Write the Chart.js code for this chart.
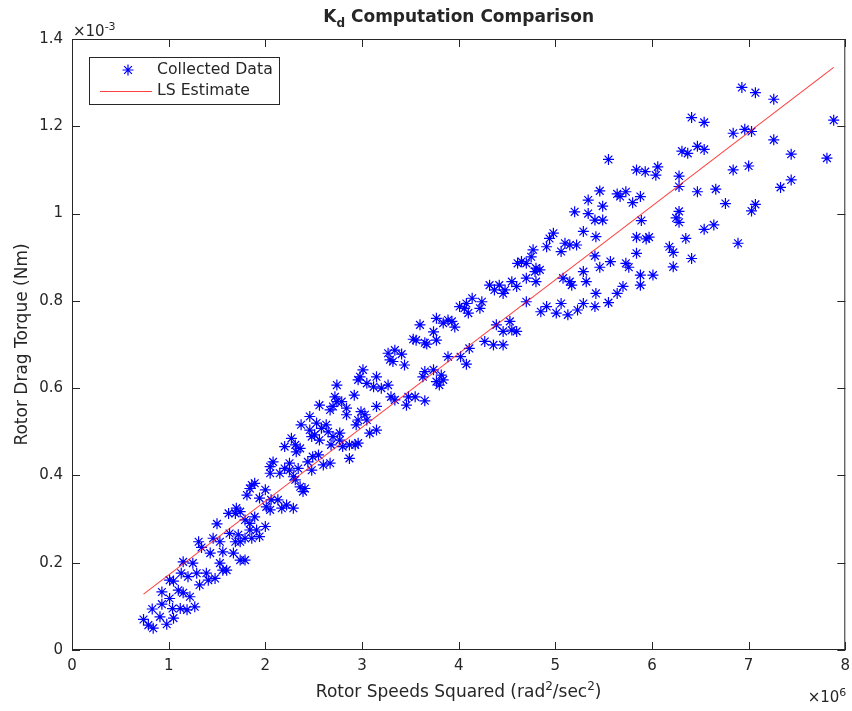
<!DOCTYPE html>
<html>
<head>
<meta charset="utf-8">
<script src="https://cdn.jsdelivr.net/npm/chart.js@4.4.0/dist/chart.umd.min.js"></script>
<style>
html,body{margin:0;padding:0;background:#fff}
</style>
</head>
<body>
<canvas id="kd" width="852" height="711"></canvas>
<script>
// rotor speed squared, in units of 1e6 rad^2/s^2
const speedSq=[
  0.74,0.79,0.84,0.83,0.91,0.93,0.98,1.05,0.93,1.01,1.04,1.12,1.15,1.10,1.22,1.27,1.19,1.01,1.05,1.13,
  1.15,1.20,1.25,1.29,1.32,1.31,1.34,1.39,1.41,1.48,1.46,1.50,1.43,1.53,1.56,1.53,1.56,1.60,1.63,1.69,
  1.72,1.67,1.74,1.79,1.79,1.62,1.69,1.84,1.89,1.91,1.86,1.74,
  1.70,1.74,2.00,1.84,1.79,1.94,1.81,1.86,1.89,1.84,1.94,2.00,2.01,2.06,2.05,2.13,2.17,2.22,2.29,2.05,
  2.08,2.05,2.15,2.20,2.25,2.25,2.34,2.29,2.20,2.27,2.31,2.32,2.36,2.31,2.36,2.41,2.39,2.44,2.48,2.49,
  2.37,2.46,2.51,
  3.01,2.98,3.05,2.96,3.12,3.15,2.74,2.92,2.56,2.72,2.74,2.79,2.67,2.70,2.84,2.84,2.99,3.03,2.96,3.05,
  2.94,3.15,2.46,2.53,2.58,2.63,2.65,2.48,2.56,2.70,2.77,2.77,2.68,2.80,2.87,2.93,2.96,3.08,3.15,2.55,
  2.60,2.67,2.87,
  3.77,3.84,3.89,3.60,3.74,3.77,3.53,3.56,3.65,3.67,3.27,3.34,3.41,3.29,3.32,3.44,3.89,3.20,3.27,3.65,
  3.63,3.74,3.82,3.77,3.80,3.84,3.30,3.34,3.48,3.55,3.65,3.46,
  4.61,4.32,4.37,4.42,4.48,4.55,4.46,4.60,4.14,4.24,4.08,4.06,4.01,4.10,4.22,3.93,3.96,4.39,4.53,4.46,
  4.55,4.60,4.27,4.36,4.46,4.11,4.02,4.08,
  5.34,5.20,5.34,5.29,4.98,4.94,4.91,5.10,5.15,5.22,5.06,4.77,4.75,4.65,4.70,4.80,4.84,4.79,4.70,4.80,
  4.70,5.29,5.08,5.15,5.17,5.32,4.91,4.85,5.06,5.01,5.13,5.23,5.29,
  5.55,5.84,5.93,6.04,6.06,5.46,5.64,5.67,5.73,5.80,5.88,5.49,5.41,5.49,5.89,5.42,5.84,5.94,5.97,5.41,
  5.84,6.18,5.57,5.46,5.73,5.76,5.88,6.01,5.88,5.70,5.42,5.64,5.55,5.41,
  6.41,6.54,6.84,6.31,6.37,6.47,6.54,6.28,6.28,6.47,6.66,6.84,6.76,6.28,6.25,6.28,6.35,6.54,6.64,6.22,
  6.41,6.22,6.89,
  6.93,7.07,7.26,7.88,6.96,7.03,7.26,7.44,7.81,7.00,7.44,7.33,7.07,7.03
];
// rotor drag torque, in units of 1e-3 Nm
const dragTorque=[
  0.070,0.057,0.050,0.094,0.076,0.105,0.059,0.073,0.133,0.118,0.095,0.095,0.131,0.137,0.122,0.099,0.092,0.160,0.158,0.176,
  0.202,0.168,0.199,0.176,0.149,0.248,0.235,0.176,0.160,0.164,0.256,0.289,0.222,0.248,0.225,0.199,0.183,0.183,0.267,0.248,
  0.264,0.222,0.206,0.206,0.298,0.313,0.313,0.290,0.305,0.275,0.256,0.248,
  0.325,0.317,0.283,0.275,0.256,0.260,0.355,0.378,0.382,0.370,0.348,0.367,0.328,0.344,0.321,0.344,0.325,0.332,0.325,0.420,
  0.431,0.405,0.405,0.416,0.428,0.412,0.416,0.397,0.466,0.485,0.470,0.454,0.462,0.390,0.374,0.370,0.363,0.431,0.412,0.443,
  0.516,0.504,0.493,
  0.642,0.626,0.611,0.619,0.603,0.626,0.607,0.584,0.561,0.580,0.569,0.569,0.550,0.558,0.554,0.539,0.546,0.539,0.527,0.527,
  0.516,0.558,0.535,0.520,0.508,0.516,0.500,0.489,0.481,0.489,0.497,0.481,0.470,0.466,0.470,0.470,0.474,0.497,0.504,0.447,
  0.424,0.428,0.439,
  0.760,0.749,0.756,0.745,0.729,0.710,0.712,0.710,0.704,0.701,0.680,0.687,0.678,0.665,0.661,0.653,0.672,0.600,0.607,0.638,
  0.626,0.642,0.630,0.615,0.607,0.619,0.580,0.573,0.580,0.580,0.571,0.561,
  0.886,0.836,0.825,0.836,0.825,0.844,0.817,0.833,0.806,0.798,0.794,0.783,0.787,0.772,0.783,0.753,0.740,0.745,0.753,0.730,
  0.733,0.730,0.707,0.699,0.699,0.691,0.672,0.655,
  1.031,1.004,1.000,0.959,0.955,0.943,0.924,0.932,0.928,0.928,0.913,0.917,0.901,0.890,0.886,0.875,0.871,0.867,0.852,0.844,
  0.798,0.867,0.852,0.844,0.836,0.844,0.787,0.775,0.794,0.772,0.768,0.779,0.794,
  1.124,1.100,1.096,1.088,1.107,1.052,1.045,1.039,1.050,1.025,1.039,1.017,0.985,0.985,0.984,0.947,0.946,0.942,0.946,0.903,
  0.909,0.924,0.890,0.877,0.886,0.877,0.859,0.859,0.836,0.833,0.817,0.817,0.796,0.787,
  1.220,1.209,1.184,1.143,1.138,1.154,1.147,1.086,1.062,1.050,1.056,1.100,1.023,1.005,0.990,0.980,0.943,0.964,0.974,0.911,
  0.897,0.878,0.932,
  1.289,1.277,1.262,1.214,1.193,1.188,1.169,1.136,1.127,1.109,1.077,1.060,1.021,1.006
];
// least squares fit, end points
const lsSpeedSq=[0.74,7.88];
const lsTorque=[0.128,1.335];

const xTicks=[0,1,2,3,4,5,6,7,8];
const yTicks=[0,0.2,0.4,0.6,0.8,1,1.2,1.4];

const INK='#262626';
const FAM='"DejaVu Sans", sans-serif';

// text made of pieces, some raised (sup) or lowered (sub)
function richWidth(ctx,parts,size,weight){
  let w=0;
  parts.forEach(p=>{
    const s=p.sup||p.sub?Math.round(size*0.7):size;
    ctx.font=weight+' '+s+'px '+FAM;
    w+=ctx.measureText(p.t).width;
  });
  return w;
}
function drawRich(ctx,parts,x,y,size,weight){
  parts.forEach(p=>{
    const s=p.sup||p.sub?Math.round(size*0.7):size;
    ctx.font=weight+' '+s+'px '+FAM;
    const dy=p.sup?-size*0.42:p.sub?size*0.3:0;
    ctx.fillText(p.t,x,y+dy);
    x+=ctx.measureText(p.t).width;
  });
}
function star(ctx,x,y,r){
  const d=r*Math.SQRT1_2;
  ctx.beginPath();
  ctx.moveTo(x-r,y);ctx.lineTo(x+r,y);ctx.moveTo(x,y-r);ctx.lineTo(x,y+r);
  ctx.moveTo(x-d,y-d);ctx.lineTo(x+d,y+d);ctx.moveTo(x-d,y+d);ctx.lineTo(x+d,y-d);
  ctx.stroke();
}

const decor={
  id:'decor',
  afterDatasetsDraw(chart){
    const {ctx,chartArea:a,scales:{x,y}}=chart;
    ctx.save();
    ctx.strokeStyle=INK;ctx.lineWidth=1;
    ctx.strokeRect(a.left+0.5,a.top+0.5,a.right-a.left-1,a.bottom-a.top-1);
    // inward ticks on all four sides
    const tl=8;
    ctx.beginPath();
    xTicks.forEach(v=>{
      const px=Math.round(x.getPixelForValue(v))+0.5;
      ctx.moveTo(px,a.bottom);ctx.lineTo(px,a.bottom-tl);
      ctx.moveTo(px,a.top);ctx.lineTo(px,a.top+tl);
    });
    yTicks.forEach(v=>{
      const py=Math.round(y.getPixelForValue(v))+0.5;
      ctx.moveTo(a.left,py);ctx.lineTo(a.left+tl,py);
      ctx.moveTo(a.right,py);ctx.lineTo(a.right-tl,py);
    });
    ctx.stroke();

    ctx.fillStyle=INK;ctx.textBaseline='alphabetic';ctx.textAlign='left';
    const cx=(a.left+a.right)/2;
    // title
    const title=[{t:'K'},{t:'d',sub:true},{t:' Computation Comparison'}];
    drawRich(ctx,title,cx-richWidth(ctx,title,17,'bold')/2,22,17,'bold');
    // exponent labels
    drawRich(ctx,[{t:'\u00d710'},{t:'-3',sup:true}],a.left+1,36,15,'normal');
    const e6=[{t:'\u00d710'},{t:'6',sup:true}];
    drawRich(ctx,e6,a.right-richWidth(ctx,e6,15,'normal')+1,702,15,'normal');
    // x label
    const xl=[{t:'Rotor Speeds Squared (rad'},{t:'2',sup:true},{t:'/sec'},{t:'2',sup:true},{t:')'}];
    drawRich(ctx,xl,cx-richWidth(ctx,xl,17,'normal')/2,697,17,'normal');
    // y label
    ctx.save();
    ctx.translate(27,(a.top+a.bottom)/2);ctx.rotate(-Math.PI/2);
    ctx.font='17px '+FAM;ctx.textAlign='center';
    ctx.fillText('Rotor Drag Torque (Nm)',0,0);
    ctx.restore();

    // legend
    const lx=89,ly=57,lw=190,lh=47;
    ctx.fillStyle='#fff';ctx.fillRect(lx,ly,lw,lh);
    ctx.strokeStyle=INK;ctx.strokeRect(lx+0.5,ly+0.5,lw,lh);
    ctx.strokeStyle='#0000ff';ctx.lineWidth=1.2;
    star(ctx,128,70,5.5);
    ctx.lineWidth=1;ctx.strokeStyle='rgba(255,0,0,0.75)';
    ctx.beginPath();ctx.moveTo(100,91.5);ctx.lineTo(152,91.5);ctx.stroke();
    ctx.fillStyle=INK;ctx.font='15.7px '+FAM;ctx.textBaseline='middle';
    ctx.fillText('Collected Data',157,70);
    ctx.fillText('LS Estimate',157,91);
    ctx.restore();
  }
};

const noPad=s=>{s.paddingLeft=0;s.paddingRight=0;s.paddingTop=0;s.paddingBottom=0;};

new Chart(document.getElementById('kd'),{
  type:'scatter',
  data:{datasets:[
    {label:'LS Estimate',data:lsSpeedSq.map((v,i)=>({x:v,y:lsTorque[i]})),
      showLine:true,borderColor:'rgba(255,0,0,0.75)',borderWidth:1.1,pointRadius:0,order:0},
    {label:'Collected Data',data:speedSq.map((v,i)=>({x:v,y:dragTorque[i]})),
      pointStyle:'star',pointRadius:5.5,pointHoverRadius:5.5,borderColor:'#0000ff',
      backgroundColor:'#0000ff',pointBorderWidth:1.2,order:1}
  ]},
  options:{responsive:false,animation:false,devicePixelRatio:1,
    layout:{padding:{top:39,right:6,left:0,bottom:0}},
    plugins:{legend:{display:false},tooltip:{enabled:false},title:{display:false}},
    scales:{
      x:{type:'linear',min:0,max:8,
        afterBuildTicks:s=>{s.ticks=xTicks.map(v=>({value:v}));},
        afterFit:s=>{s.height=61;noPad(s);},
        grid:{display:false,drawTicks:false},border:{display:false},
        ticks:{color:INK,font:{family:FAM,size:15},padding:7,maxRotation:0,
          callback:v=>String(v)}},
      y:{type:'linear',min:0,max:1.4,
        afterBuildTicks:s=>{s.ticks=yTicks.map(v=>({value:v}));},
        afterFit:s=>{s.width=72;noPad(s);},
        grid:{display:false,drawTicks:false},border:{display:false},
        ticks:{color:INK,font:{family:FAM,size:15},padding:9,
          callback:v=>String(+(+v).toFixed(1))}}
    }
  },
  plugins:[decor]
});
</script>
</body>
</html>
